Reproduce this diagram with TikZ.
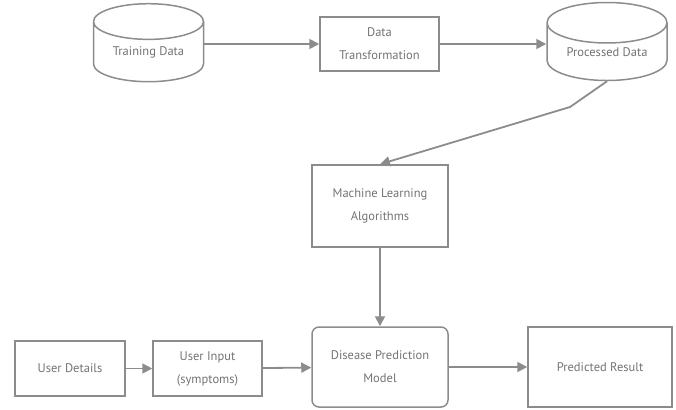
\documentclass[tikz,border=0pt]{standalone}
\usepackage{fontspec}
\setmainfont{PT Sans}
\usetikzlibrary{shapes.geometric,arrows.meta}

\begin{document}
\begin{tikzpicture}[x=1pt,y=-1pt]
\tikzset{boite/.style={draw=gray!90, line width=1.5pt, text=black!55, align=center, font={\fontsize{12.5}{23}\selectfont}, inner sep=0pt},
  base/.style={boite, cylinder, shape border rotate=90, aspect=0.5},
  fleche/.style={draw=gray!90, line width=1.8pt, -{Triangle[length=10pt,width=10pt]}}}
\useasboundingbox (0,0) rectangle (676,409);
\node[base, minimum width=110pt, minimum height=78pt] (TD) at (148.5,52) {Training Data};
\node[boite, minimum width=119pt, minimum height=54pt] (DT) at (379.5,44) {Data\\Transformation};
\node[base, minimum width=120pt, minimum height=78pt] (PD) at (607,52) {Processed Data};
\node[boite, minimum width=136pt, minimum height=82pt] (MLA) at (380,206) {Machine Learning\\Algorithms};
\node[boite, rounded corners=7pt, minimum width=136pt, minimum height=80pt] (DPM) at (380,367) {Disease Prediction\\Model};
\node[boite, minimum width=144pt, minimum height=80pt] (PR) at (600,367) {Predicted Result};
\node[boite, minimum width=110pt, minimum height=55pt] (UD) at (70,368.5) {User Details};
\node[boite, minimum width=109pt, minimum height=55pt] (UI) at (207.5,368.5) {User Input\\(symptoms)};
\coordinate (K) at (570,107);
\draw[fleche] (TD.east |- DT.west) -- (DT.west);
\draw[fleche] (DT.east) -- (DT.east -| PD.west);
\draw[fleche] (PD.south) -- (K) -- (MLA.north);
\draw[fleche] (MLA) -- (DPM);
\draw[fleche] (UD) -- (UI);
\draw[fleche] (UI) -- (DPM);
\draw[fleche] (DPM) -- (PR);
\end{tikzpicture}
\end{document}
